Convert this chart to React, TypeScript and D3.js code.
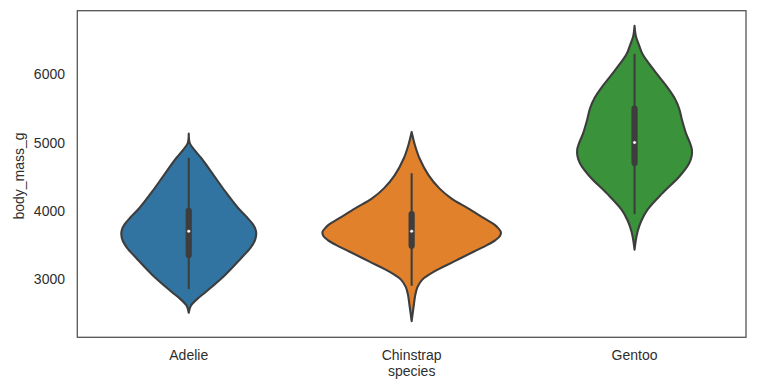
import React from "react";
import * as d3 from "d3";

const species = ["Adelie", "Chinstrap", "Gentoo"];
const colors = ["#3274a1", "#e1812c", "#3a923a"];
const yTicks = [3000, 4000, 5000, 6000];

// violin outlines: [body_mass_g, relative half-width]
const adelieProfile: [number, number][] = [
  [5131, 0], [4990, 0.012], [4880, 0.07], [4766, 0.144], [4523, 0.278], [4279, 0.411],
  [4036, 0.556], [3900, 0.655], [3800, 0.72], [3720, 0.75], [3647, 0.756], [3560, 0.74],
  [3453, 0.69], [3307, 0.589], [3063, 0.411], [2819, 0.2], [2700, 0.09], [2610, 0.025], [2504, 0],
];
const chinstrapProfile: [number, number][] = [
  [5155, 0], [4961, 0.037], [4766, 0.089], [4523, 0.189], [4328, 0.311],
  [4182, 0.444], [4036, 0.633], [3891, 0.811], [3800, 0.925], [3745, 0.97], [3690, 1],
  [3630, 0.99], [3570, 0.94], [3500, 0.85], [3403, 0.7], [3257, 0.478], [3111, 0.256],
  [2990, 0.12], [2880, 0.065], [2760, 0.04], [2625, 0.025], [2381, 0],
];
const gentooProfile: [number, number][] = [
  [6712, 0], [6560, 0.015], [6430, 0.05], [6299, 0.089], [6055, 0.222], [5812, 0.367],
  [5650, 0.45], [5500, 0.5], [5326, 0.533], [5131, 0.578], [5000, 0.62], [4900, 0.643],
  [4800, 0.64], [4693, 0.611], [4498, 0.5], [4255, 0.311], [4012, 0.144], [3850, 0.075],
  [3700, 0.035], [3574, 0.015], [3428, 0],
];
const profiles = [adelieProfile, chinstrapProfile, gentooProfile];

const whiskerLow = [2850, 2900, 3950];
const whiskerHigh = [4775, 4550, 6300];
const q1 = [3350, 3487.5, 4700];
const q3 = [4000, 3950, 5500];
const medians = [3700, 3700, 5000];

const W = 760;
const H = 388;
const left = 77.3;
const right = 746;
const top = 10.7;
const bottom = 337.3;
const gray = "#3d3d3d";
const textColor = "#2e2e2e";
const font = "'Liberation Sans', Arial, sans-serif";

export default function App() {
  const x = d3.scaleBand<string>().domain(species).range([left, right]).padding(0);
  const y = d3.scaleLinear().domain([2144, 6934]).range([bottom, top]);
  const bw = x.bandwidth();
  const wScale = d3.scaleLinear().domain([0, 1]).range([0, bw * 0.4]);

  return (
    <svg
      width={W}
      height={H}
      style={{ position: "absolute", left: 0, top: 0, background: "#fff" }}
    >
      <rect x={0} y={0} width={W} height={H} fill="#fff" />
      {species.map((s, i) => {
        const cx = (x(s) as number) + bw / 2;
        const area = d3
          .area<[number, number]>()
          .y((d) => y(d[0]))
          .x0((d) => cx - wScale(d[1]))
          .x1((d) => cx + wScale(d[1]))
          .curve(d3.curveCatmullRom.alpha(0.5));
        return (
          <g key={s}>
            <path
              d={area(profiles[i]) || ""}
              fill={colors[i]}
              stroke={gray}
              strokeWidth={2.1}
              strokeLinejoin="round"
            />
            <line
              x1={cx}
              x2={cx}
              y1={y(whiskerLow[i])}
              y2={y(whiskerHigh[i])}
              stroke={gray}
              strokeWidth={2.1}
            />
            <line
              x1={cx}
              x2={cx}
              y1={y(q1[i])}
              y2={y(q3[i])}
              stroke={gray}
              strokeWidth={6.2}
              strokeLinecap="round"
            />
            <circle cx={cx} cy={y(medians[i])} r={1.8} fill="#fff" stroke={gray} strokeWidth={0.6} />
          </g>
        );
      })}
      <rect
        x={left}
        y={top}
        width={right - left}
        height={bottom - top}
        fill="none"
        stroke="#555"
        strokeWidth={1.3}
      />
      {yTicks.map((t) => (
        <text
          key={t}
          x={65}
          y={y(t)}
          dy="0.36em"
          textAnchor="end"
          fontFamily={font}
          fontSize={14}
          fill={textColor}
        >
          {t}
        </text>
      ))}
      {species.map((s) => (
        <text
          key={s}
          x={(x(s) as number) + bw / 2}
          y={360}
          textAnchor="middle"
          fontFamily={font}
          fontSize={14}
          fill={textColor}
        >
          {s}
        </text>
      ))}
      <text
        x={(left + right) / 2}
        y={375.5}
        textAnchor="middle"
        fontFamily={font}
        fontSize={14}
        fill={textColor}
      >
        species
      </text>
      <text
        transform={`translate(23.5, ${(top + bottom) / 2 + 2}) rotate(-90)`}
        textAnchor="middle"
        fontFamily={font}
        fontSize={14}
        fill={textColor}
      >
        body_mass_g
      </text>
    </svg>
  );
}
